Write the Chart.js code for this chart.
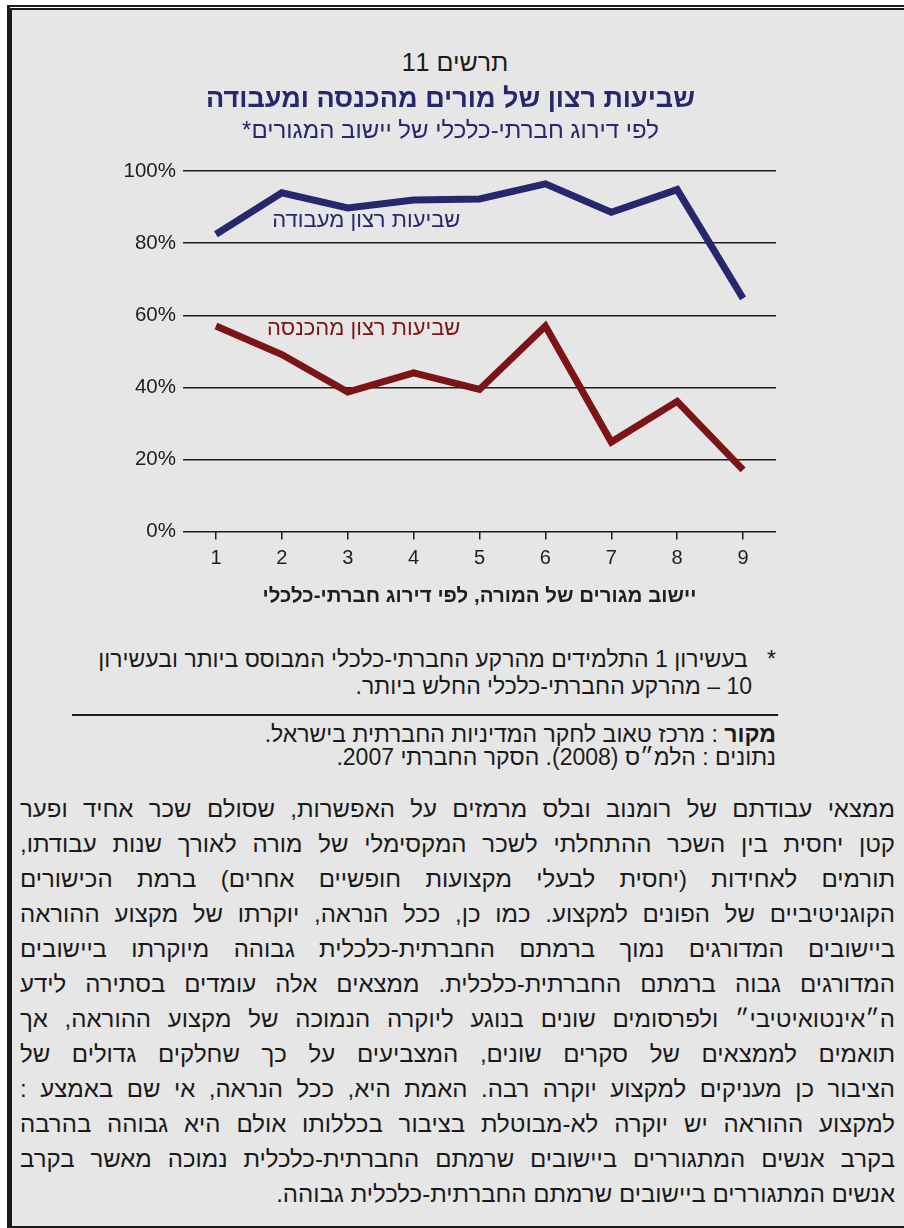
<!DOCTYPE html>
<html lang="he">
<head>
<meta charset="utf-8">
<script src="https://cdn.jsdelivr.net/npm/chart.js@4.4.0/dist/chart.umd.min.js"></script>
<style>
  html, body { margin: 0; padding: 0; background: #fff; }
  body { width: 904px; height: 1228px; position: relative; overflow: hidden;
         font-family: 'Liberation Sans', Arial, sans-serif; color: #1a1a1a; }
  .frame-outer { position: absolute; left: 7px; top: 5px; width: 930px; height: 1260px;
                 border-top: 2px solid #1b1b1b; border-left: 3px solid #1b1b1b; box-sizing: border-box; }
  .frame-inner { position: absolute; left: 10px; top: 8px; width: 920px; height: 1220px;
                 border-top: 2px solid #1b1b1b; border-left: 2px solid #1b1b1b; border-bottom: 2px solid #1b1b1b;
                 background: #e6e6e6; box-sizing: border-box; }
  .fig-no { position: absolute; left: 10px; width: 890px; top: 47px; text-align: center;
            font-size: 25px; line-height: 30px; direction: rtl; }
  #chartBox { position: absolute; left: 0; top: 76px; width: 904px; height: 552px; }
  .note { position: absolute; right: 128px; direction: rtl; text-align: right; font-size: 23px; line-height: 26px; white-space: nowrap; }
  .rule { position: absolute; left: 72px; top: 714px; width: 706px; height: 2px; background: #1a1a1a; }
  .body-text { position: absolute; left: 20px; width: 875px; top: 791px; direction: rtl; font-size: 24px; }
  .body-text div { height: 35px; line-height: 35px; text-align: justify; text-align-last: justify; white-space: nowrap; }
  .body-text div.last { text-align-last: right; }
</style>
</head>
<body>
<div class="frame-outer"></div>
<div class="frame-inner"></div>
<div class="fig-no">תרשים 11</div>
<div id="chartBox"><canvas id="satisfactionChart"></canvas></div>

<div class="note" style="top:646px;">*&nbsp;&nbsp; בעשירון 1 התלמידים מהרקע החברתי-כלכלי המבוסס ביותר ובעשירון</div>
<div class="note" style="top:673px; right:152px;">10 – מהרקע החברתי-כלכלי החלש ביותר.</div>
<div class="rule"></div>
<div class="note" style="top:721px;"><b>מקור</b> : מרכז טאוב לחקר המדיניות החברתית בישראל.</div>
<div class="note" style="top:744px;">נתונים : הלמ״ס (2008). הסקר החברתי 2007.</div>

<div class="body-text">
  <div>ממצאי עבודתם של רומנוב ובלס מרמזים על האפשרות, שסולם שכר אחיד ופער</div>
  <div>קטן יחסית בין השכר ההתחלתי לשכר המקסימלי של מורה לאורך שנות עבודתו,</div>
  <div>תורמים לאחידות (יחסית לבעלי מקצועות חופשיים אחרים) ברמת הכישורים</div>
  <div>הקוגניטיביים של הפונים למקצוע. כמו כן, ככל הנראה, יוקרתו של מקצוע ההוראה</div>
  <div>ביישובים המדורגים נמוך ברמתם החברתית-כלכלית גבוהה מיוקרתו ביישובים</div>
  <div>המדורגים גבוה ברמתם החברתית-כלכלית. ממצאים אלה עומדים בסתירה לידע</div>
  <div>ה״אינטואיטיבי״ ולפרסומים שונים בנוגע ליוקרה הנמוכה של מקצוע ההוראה, אך</div>
  <div>תואמים לממצאים של סקרים שונים, המצביעים על כך שחלקים גדולים של</div>
  <div>הציבור כן מעניקים למקצוע יוקרה רבה. האמת היא, ככל הנראה, אי שם באמצע :</div>
  <div>למקצוע ההוראה יש יוקרה לא-מבוטלת בציבור בכללותו אולם היא גבוהה בהרבה</div>
  <div>בקרב אנשים המתגוררים ביישובים שרמתם החברתית-כלכלית נמוכה מאשר בקרב</div>
  <div class="last">אנשים המתגוררים ביישובים שרמתם החברתית-כלכלית גבוהה.</div>
</div>

<script>
// settlement decile (socio-economic ranking)
const categories = ['1', '2', '3', '4', '5', '6', '7', '8', '9'];
// % satisfied with work
const workSatisfaction = [82.5, 94, 89.8, 92, 92.3, 96.5, 88.6, 94.9, 64.7];
// % satisfied with income
const incomeSatisfaction = [57, 49.1, 38.7, 44, 39.4, 57, 24.8, 36.1, 17.1];
const seriesNames = ['שביעות רצון מעבודה', 'שביעות רצון מהכנסה'];
const yTicks = [0, 20, 40, 60, 80, 100];

const chartTitle = 'שביעות רצון של מורים מהכנסה ומעבודה';
// RLM keeps the asterisk at the end of the RTL line
const chartSubtitle = 'לפי דירוג חברתי-כלכלי של יישוב המגורים*\u200F';
const xAxisTitle = 'יישוב מגורים של המורה, לפי דירוג חברתי-כלכלי';

const navy = '#27276e';
const darkRed = '#7c1417';
const gridColor = '#1e1e1e';
const hebFont = "'Liberation Sans', Arial, sans-serif";

// series names written inside the plot, next to each line
const inlineLabels = {
    id: 'inlineLabels',
    afterDatasetsDraw(chart) {
        const ctx = chart.ctx;
        const x = chart.scales.x;
        const y = chart.scales.y;
        const spots = [[3.71, 86.2], [3.71, 56.2]];
        ctx.save();
        ctx.font = '22px ' + hebFont;
        ctx.textAlign = 'right';
        ctx.textBaseline = 'middle';
        chart.data.datasets.forEach(function(ds, i) {
            ctx.fillStyle = ds.borderColor;
            ctx.fillText(ds.label, x.getPixelForValue(spots[i][0]), y.getPixelForValue(spots[i][1]));
        });
        ctx.restore();
    }
};

document.addEventListener('DOMContentLoaded', function() {
    const ctx = document.getElementById('satisfactionChart').getContext('2d');

    new Chart(ctx, {
        type: 'line',
        data: {
            labels: categories,
            datasets: [{
                label: seriesNames[0],
                data: workSatisfaction,
                borderColor: navy,
                borderWidth: 7,
                pointRadius: 0,
                tension: 0,
                borderJoinStyle: 'miter'
            }, {
                label: seriesNames[1],
                data: incomeSatisfaction,
                borderColor: darkRed,
                borderWidth: 7,
                pointRadius: 0,
                tension: 0,
                borderJoinStyle: 'miter'
            }]
        },
        options: {
            responsive: true,
            maintainAspectRatio: false,
            animation: false,
            layout: {
                padding: { left: 125, right: 128, top: 0, bottom: 12 }
            },
            plugins: {
                legend: { display: false },
                tooltip: { enabled: false },
                title: {
                    display: true,
                    text: chartTitle,
                    color: navy,
                    font: { family: hebFont, size: 27, weight: 'bold' },
                    padding: { top: 7, bottom: 0 }
                },
                subtitle: {
                    display: true,
                    text: chartSubtitle,
                    color: navy,
                    font: { family: hebFont, size: 24 },
                    padding: { top: 2, bottom: 25 }
                }
            },
            scales: {
                x: {
                    offset: true,
                    grid: {
                        offset: false,
                        drawOnChartArea: false,
                        drawTicks: true,
                        tickLength: 8,
                        color: gridColor,
                        lineWidth: 1.5
                    },
                    border: { display: false },
                    ticks: {
                        color: '#1e1e1e',
                        padding: 7,
                        font: { family: hebFont, size: 20 }
                    },
                    title: {
                        display: true,
                        text: xAxisTitle,
                        color: '#1e1e1e',
                        font: { family: hebFont, size: 20.5, weight: 'bold' },
                        padding: { top: 7, bottom: 7 }
                    }
                },
                y: {
                    min: 0,
                    max: 100,
                    afterFit: function(scale) { scale.width = 58; },
                    afterBuildTicks: function(scale) {
                        scale.ticks = yTicks.map(function(v) { return { value: v }; });
                    },
                    grid: {
                        drawTicks: false,
                        color: gridColor,
                        lineWidth: 1.5
                    },
                    border: { display: false },
                    ticks: {
                        color: '#1e1e1e',
                        padding: 7,
                        font: { family: hebFont, size: 20.5 },
                        callback: function(v) { return v + '%'; }
                    }
                }
            }
        },
        plugins: [inlineLabels]
    });
});
</script>
</body>
</html>
